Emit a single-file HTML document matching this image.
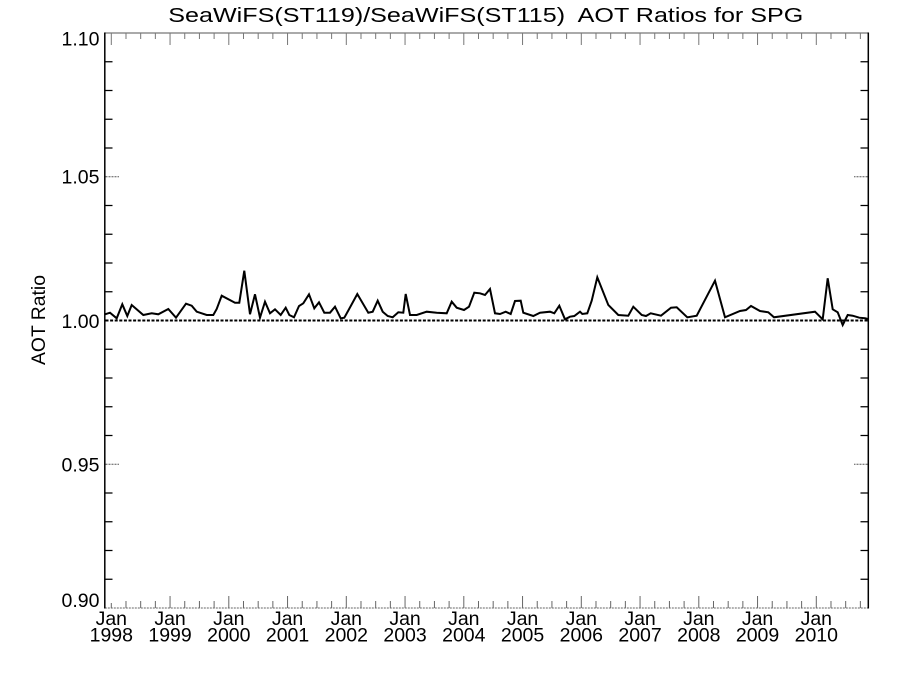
<!DOCTYPE html>
<html>
<head>
<meta charset="utf-8">
<style>
  html, body { margin: 0; padding: 0; background: #ffffff; }
  svg { display: block; }
  text { font-family: "Liberation Sans", "DejaVu Sans", sans-serif; fill: #000; }
  .pre { white-space: pre; }
</style>
</head>
<body>
<svg width="900" height="675" viewBox="0 0 900 675" xmlns="http://www.w3.org/2000/svg">
  <rect x="0" y="0" width="900" height="675" fill="#ffffff"/>

  <!-- Title -->
  <text class="pre" xml:space="preserve" x="168.3" y="22" font-size="20.5" textLength="635" lengthAdjust="spacingAndGlyphs">SeaWiFS(ST119)/SeaWiFS(ST115)&#160; AOT Ratios for SPG</text>

  <!-- Axes frame -->
  <line x1="104.8" y1="33" x2="868.3" y2="33" stroke="#777" stroke-width="1.2"/>
  <line x1="104.8" y1="608" x2="868.3" y2="608" stroke="#666" stroke-width="1.1" stroke-dasharray="2 1"/>
  <line x1="104.8" y1="32.5" x2="104.8" y2="608.5" stroke="#000" stroke-width="1.5"/>
  <line x1="868.3" y1="32.5" x2="868.3" y2="608.5" stroke="#000" stroke-width="1.5"/>

  <!-- Bottom ticks -->
  <g stroke="#666" stroke-width="1">
    <path d="M125.99 608V601M140.68 608V601M155.36 608V601M184.74 608V601M199.43 608V601M214.11 608V601M243.49 608V601M258.18 608V601M272.86 608V601M302.24 608V601M316.93 608V601M331.61 608V601M360.99 608V601M375.68 608V601M390.36 608V601M419.74 608V601M434.43 608V601M449.11 608V601M478.49 608V601M493.18 608V601M507.86 608V601M537.24 608V601M551.93 608V601M566.61 608V601M595.99 608V601M610.68 608V601M625.36 608V601M654.74 608V601M669.43 608V601M684.11 608V601M713.49 608V601M728.18 608V601M742.86 608V601M772.24 608V601M786.93 608V601M801.61 608V601M830.99 608V601M845.68 608V601M860.36 608V601"/>
    <path d="M111.3 608V603M170.05 608V596M228.8 608V596M287.55 608V596M346.3 608V596M405.05 608V596M463.8 608V596M522.55 608V596M581.3 608V596M640.05 608V596M698.8 608V596M757.55 608V596M816.3 608V596"/>
  </g>
  <!-- Top ticks -->
  <g stroke="#777" stroke-width="1">
    <path d="M125.99 33V39M140.68 33V39M155.36 33V39M184.74 33V39M199.43 33V39M214.11 33V39M243.49 33V39M258.18 33V39M272.86 33V39M302.24 33V39M316.93 33V39M331.61 33V39M360.99 33V39M375.68 33V39M390.36 33V39M419.74 33V39M434.43 33V39M449.11 33V39M478.49 33V39M493.18 33V39M507.86 33V39M537.24 33V39M551.93 33V39M566.61 33V39M595.99 33V39M610.68 33V39M625.36 33V39M654.74 33V39M669.43 33V39M684.11 33V39M713.49 33V39M728.18 33V39M742.86 33V39M772.24 33V39M786.93 33V39M801.61 33V39M830.99 33V39M845.68 33V39M860.36 33V39"/>
    <path d="M111.3 33V45M170.05 33V45M228.8 33V45M287.55 33V45M346.3 33V45M405.05 33V45M463.8 33V45M522.55 33V45M581.3 33V45M640.05 33V45M698.8 33V45M757.55 33V45M816.3 33V45"/>
  </g>

  <!-- Left / right minor y ticks -->
  <g stroke="#000" stroke-width="1.3">
    <path d="M104.8 579.25H112.5M104.8 550.5H112.5M104.8 521.75H112.5M104.8 493H112.5M104.8 435.5H112.5M104.8 406.75H112.5M104.8 378H112.5M104.8 349.25H112.5M104.8 291.75H112.5M104.8 263H112.5M104.8 234.25H112.5M104.8 205.5H112.5M104.8 148H112.5M104.8 119.25H112.5M104.8 90.5H112.5M104.8 61.75H112.5"/>
    <path d="M868.3 579.25H860.5M868.3 550.5H860.5M868.3 521.75H860.5M868.3 493H860.5M868.3 435.5H860.5M868.3 406.75H860.5M868.3 378H860.5M868.3 349.25H860.5M868.3 291.75H860.5M868.3 263H860.5M868.3 234.25H860.5M868.3 205.5H860.5M868.3 148H860.5M868.3 119.25H860.5M868.3 90.5H860.5M868.3 61.75H860.5"/>
  </g>
  <!-- Major y ticks (dotted) -->
  <g stroke="#555" stroke-width="1" stroke-dasharray="2 1">
    <path d="M105.5 176.75H119M105.5 464.25H119M867.5 176.75H854M867.5 464.25H854"/>
  </g>

  <!-- Reference line at 1.00 -->
  <line x1="105.5" y1="320.5" x2="868" y2="320.5" stroke="#000" stroke-width="2" stroke-dasharray="3 1.6"/>

  <!-- Data series -->
  <polyline fill="none" stroke="#000" stroke-width="2" stroke-linejoin="miter" points="
105,314.3 110,312.7 116.7,318.3 122.3,304.3 127.3,316 131.7,305 143.3,315 151.7,313.3 158.3,314.3 168.3,309 176,317.7 186,303.7 191.7,305.7 196.7,311.7 206.7,315 213.3,315 216.7,309 221.7,295.7 235,302.7 239.3,302.7 244.3,270.7 250,314.3 255,294.3 260,317.7 265,301.7 270,313.3 275,309.3 280.7,315 285.7,307.7 289.3,315 294,317.3 299,306 303.3,303.3 309,294.3 314.3,308.3 319,302.3 324.3,312.7 330,312.7 335,306.7 340.7,318.3 344.3,317.7 349,309.3 357.3,294 368.3,312.7 372.7,311.7 377.7,300.7 382.7,311.7 387.7,316 392.7,317.3 398.3,312.3 403.3,312.7 405.7,294 410,315 416.7,315 426.7,311.7 436.7,312.7 446.7,313.3 451.7,301.7 456.7,307.7 464,310 469,306.7 474.3,292.7 480,293.3 485,295 490,289 495,313.3 500,314 505.7,311.7 510.7,314 515,301 520.7,300.7 523.3,312.7 533.3,316 540,312.7 550,311.7 554.3,313.3 559.3,305.7 565,319.3 570,316.7 574.3,316 580,311.7 582.3,314 587.3,313.3 591.7,300.7 597.3,277.3 608.3,305 618.3,315 628.3,315.7 633.3,306.7 641.7,315 646,316 650.7,313.3 661,315.7 671,307.7 676.7,307.3 687.3,317.3 696.7,315.7 715,280.7 725,317.3 740,311 746,310 751,306 760,311 768.3,312.3 774,317.3 815,311.7 822.7,319.3 827.7,278.3 832.7,309.3 837.7,312.3 842.7,325 847.7,315 852.7,315.7 859.3,317.7 865,318.3 868,319"/>

  <!-- Y tick labels -->
  <g font-size="19.5" text-anchor="end">
    <text x="99.5" y="45.5">1.10</text>
    <text x="99.5" y="183.6">1.05</text>
    <text x="99.5" y="327.8">1.00</text>
    <text x="99.5" y="471.5">0.95</text>
    <text x="99.5" y="607">0.90</text>
  </g>

  <!-- Y axis title -->
  <text transform="translate(45 320) rotate(-90)" font-size="19" text-anchor="middle" textLength="90" lengthAdjust="spacingAndGlyphs">AOT Ratio</text>

  <!-- X tick labels -->
  <g font-size="19.5" text-anchor="middle">
    <text x="111.3" y="625">Jan</text><text x="111.3" y="641.7">1998</text>
    <text x="170.05" y="625">Jan</text><text x="170.05" y="641.7">1999</text>
    <text x="228.8" y="625">Jan</text><text x="228.8" y="641.7">2000</text>
    <text x="287.55" y="625">Jan</text><text x="287.55" y="641.7">2001</text>
    <text x="346.3" y="625">Jan</text><text x="346.3" y="641.7">2002</text>
    <text x="405.05" y="625">Jan</text><text x="405.05" y="641.7">2003</text>
    <text x="463.8" y="625">Jan</text><text x="463.8" y="641.7">2004</text>
    <text x="522.55" y="625">Jan</text><text x="522.55" y="641.7">2005</text>
    <text x="581.3" y="625">Jan</text><text x="581.3" y="641.7">2006</text>
    <text x="640.05" y="625">Jan</text><text x="640.05" y="641.7">2007</text>
    <text x="698.8" y="625">Jan</text><text x="698.8" y="641.7">2008</text>
    <text x="757.55" y="625">Jan</text><text x="757.55" y="641.7">2009</text>
    <text x="816.3" y="625">Jan</text><text x="816.3" y="641.7">2010</text>
  </g>
</svg>
</body>
</html>
